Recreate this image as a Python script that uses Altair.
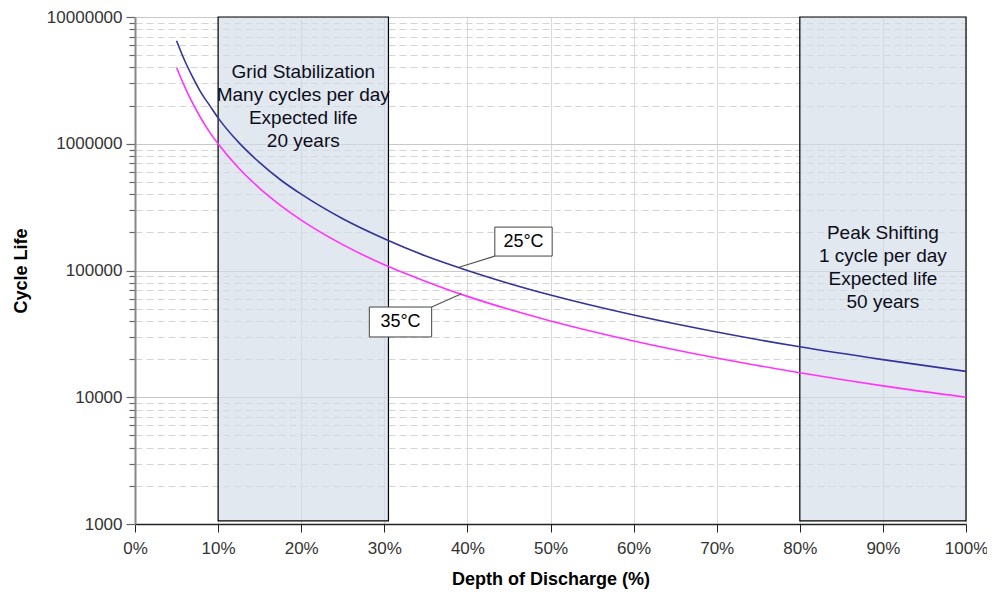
import altair as alt
import pandas as pd

# Depth of discharge (%) and cycle life
dod = [5, 6, 7, 8, 9, 10, 12.5, 15, 17.5, 20, 25, 30, 35, 40, 45, 50, 60, 70, 80, 90, 100]
life_25c = [6500000, 4500000, 3300000, 2500000, 2000000, 1600000, 1020000, 710000, 520000,
            400000, 256000, 178000, 130000, 100000, 79000, 64000, 44500, 32700, 25000, 19800, 16000]
life_35c = [4000000, 2800000, 2050000, 1560000, 1230000, 1000000, 640000, 445000, 327000,
            250000, 160000, 111000, 82000, 62500, 49400, 40000, 27800, 20400, 15600, 12300, 10000]

series_names = ["25°C", "35°C"]
series_colors = ["#333399", "#ff33ff"]

region_start = [10, 80]
region_end = [30.5, 100]
region_text = ["Grid Stabilization\nMany cycles per day\nExpected life\n20 years",
               "Peak Shifting\n1 cycle per day\nExpected life\n50 years"]

x_ticks = [0, 10, 20, 30, 40, 50, 60, 70, 80, 90, 100]
y_major = [1000, 10000, 100000, 1000000, 10000000]
y_minor = [2000, 3000, 4000, 5000, 6000, 7000, 8000, 9000,
           20000, 30000, 40000, 50000, 60000, 70000, 80000, 90000,
           200000, 300000, 400000, 500000, 600000, 700000, 800000, 900000,
           2000000, 3000000, 4000000, 5000000, 6000000, 7000000, 8000000, 9000000]

FONT = "Liberation Sans"

curves = pd.DataFrame({
    "dod": dod * 2,
    "life": life_25c + life_35c,
    "series": [series_names[0]] * len(dod) + [series_names[1]] * len(dod),
})

regions = pd.DataFrame({
    "x0": region_start, "x1": region_end,
    "y0": [1060, 1060], "y1": [10000000, 10000000],
    "xc": [(a + b) / 2 for a, b in zip(region_start, region_end)],
    "yc": [3680000, 197600],
    "txt": region_text,
})

labels = pd.DataFrame({
    "bx0": [43.3, 28.2], "bx1": [50.2, 35.7],
    "by0": [130000, 29900], "by1": [220000, 51500],
    "tx": [46.75, 31.95], "ty": [168000, 39200],
    "lx0": [43.3, 35.7], "ly0": [130000, 51500],
    "lx1": [39.0, 39.3], "ly1": [106000, 65500],
    "txt": series_names,
})

major_test = "indexof([1000,10000,100000,1000000,10000000], datum.value) >= 0"

xscale = alt.Scale(domain=[0, 100], nice=False)
yscale = alt.Scale(type="log", domain=[1000, 10000000], nice=False)

x_enc = alt.X("dod:Q", scale=xscale, title="Depth of Discharge (%)",
              axis=alt.Axis(values=x_ticks, labelExpr="datum.value + '%'",
                            labelFlush=False, labelOverlap=False,
                            grid=True, gridColor="#d9d9d9", gridWidth=1,
                            domainColor="#222222", domainWidth=1.5,
                            tickColor="#222222", tickSize=8, tickWidth=1,
                            labelFont=FONT, labelFontSize=17, labelColor="#333333",
                            labelPadding=8,
                            titleFont=FONT, titleFontSize=18, titleFontWeight="bold",
                            titleColor="#000000", titlePadding=14))
y_enc = alt.Y("life:Q", scale=yscale, title="Cycle Life",
              axis=alt.Axis(values=sorted(y_major + y_minor),
                            labelExpr="(" + major_test + ") ? ('' + datum.value) : ''",
                            labelFlush=False, labelOverlap=False,
                            grid=True,
                            gridColor={"condition": {"test": major_test, "value": "#c8c8c8"}, "value": "#d4d4d4"},
                            gridDash={"condition": {"test": major_test, "value": []}, "value": [7, 4]},
                            gridWidth=1,
                            domainColor="#888888", domainWidth=2,
                            tickColor="#666666",
                            tickSize={"condition": {"test": major_test, "value": 9}, "value": 6},
                            tickWidth=1.2,
                            labelFont=FONT, labelFontSize=17, labelColor="#333333",
                            labelPadding=4,
                            titleFont=FONT, titleFontSize=18, titleFontWeight="bold",
                            titleColor="#000000", titlePadding=16))

base = alt.Chart(curves).mark_line(strokeWidth=1.6, interpolate="monotone").encode(
    x=x_enc, y=y_enc,
    color=alt.Color("series:N", scale=alt.Scale(domain=series_names, range=series_colors), legend=None),
    detail="series:N",
)

shade = alt.Chart(regions).mark_rect(fill="#d3dbe8", fillOpacity=0.65, stroke="#000000", strokeWidth=1.2).encode(
    x=alt.X("x0:Q", scale=xscale), x2="x1:Q",
    y=alt.Y("y0:Q", scale=yscale), y2="y1:Q",
)

shade_text = alt.Chart(regions).mark_text(font=FONT, fontSize=19, color="#0d0d1a", lineBreak="\n",
                                         lineHeight=23, align="center", baseline="middle").encode(
    x=alt.X("xc:Q", scale=xscale), y=alt.Y("yc:Q", scale=yscale), text="txt:N",
)

leaders = alt.Chart(labels).mark_rule(color="#555555", strokeWidth=1.2).encode(
    x=alt.X("lx0:Q", scale=xscale), x2="lx1:Q",
    y=alt.Y("ly0:Q", scale=yscale), y2="ly1:Q",
)

boxes = alt.Chart(labels).mark_rect(fill="#ffffff", stroke="#444444", strokeWidth=1).encode(
    x=alt.X("bx0:Q", scale=xscale), x2="bx1:Q",
    y=alt.Y("by0:Q", scale=yscale), y2="by1:Q",
)

box_text = alt.Chart(labels).mark_text(font=FONT, fontSize=18, color="#000000", align="center",
                                      baseline="middle").encode(
    x=alt.X("tx:Q", scale=xscale), y=alt.Y("ty:Q", scale=yscale), text="txt:N",
)

chart = alt.layer(shade, base, shade_text, leaders, boxes, box_text).properties(
    width=831, height=507,
    autosize=alt.AutoSizeParams(type="none"),
    padding={"left": 127, "top": 9, "right": 21, "bottom": 68},
    background="#ffffff",
).configure_view(stroke=None)

chart.save("out.html", embed_options={"renderer": "svg", "actions": False})
